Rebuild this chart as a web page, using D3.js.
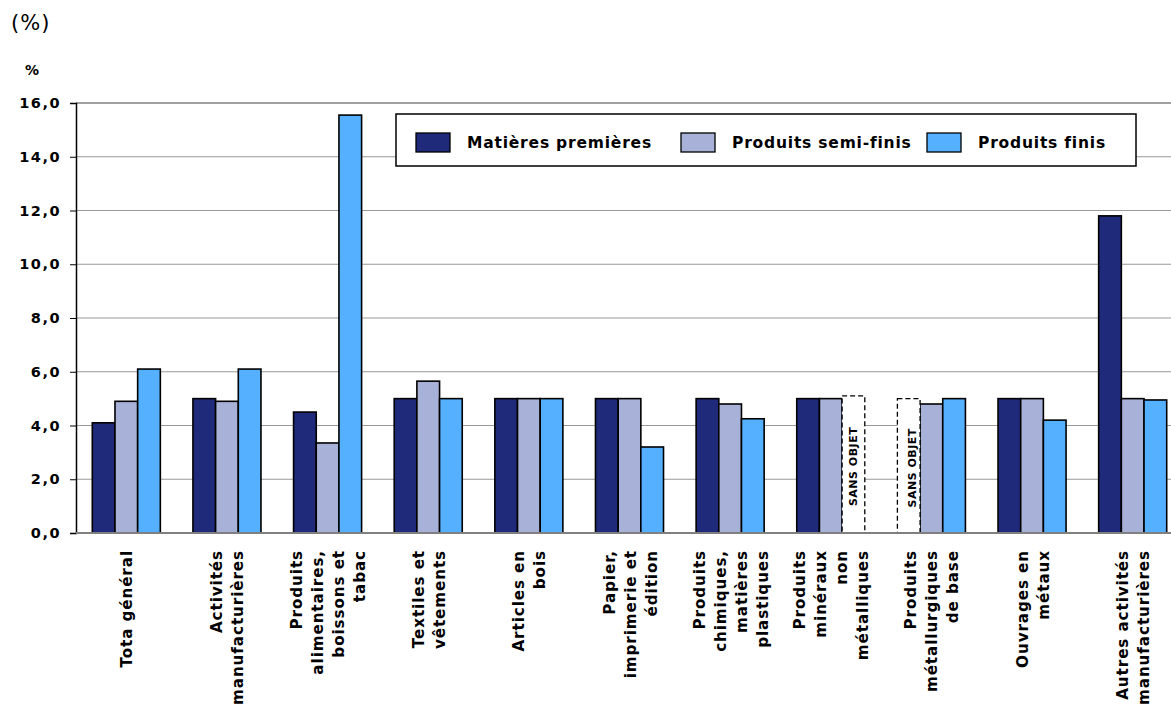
<!DOCTYPE html>
<html><head><meta charset="utf-8">
<script src="https://cdn.jsdelivr.net/npm/d3@7"></script>
<style>body{margin:0;background:#fff;} svg{display:block;}</style>
</head><body>
<svg id="chart" width="1171" height="707"></svg>
<script>
const categories = [
  ["Tota général"],
  ["Activités","manufacturières"],
  ["Produits","alimentaires,","boissons et","tabac"],
  ["Textiles et","vêtements"],
  ["Articles en","bois"],
  ["Papier,","imprimerie et","édition"],
  ["Produits","chimiques,","matières","plastiques"],
  ["Produits","minéraux","non","métalliques"],
  ["Produits","métallurgiques","de base"],
  ["Ouvrages en","métaux"],
  ["Autres activités","manufacturières"]
];
const seriesNames = ["Matières premières","Produits semi-finis","Produits finis"];
const matieres = [4.1, 5.0, 4.5, 5.0, 5.0, 5.0, 5.0, 5.0, null, 5.0, 11.8];
const semiFinis = [4.9, 4.9, 3.35, 5.65, 5.0, 5.0, 4.8, 5.0, 4.8, 5.0, 5.0];
const finis = [6.1, 6.1, 15.55, 5.0, 5.0, 3.2, 4.25, null, 5.0, 4.2, 4.95];
// "Sans objet" placeholders: [category index, series index, placeholder height]
const sansObjet = [[7, 2, 5.1], [8, 0, 5.0]];
const yTicks = [0, 2, 4, 6, 8, 10, 12, 14, 16];
const colors = ["#1f2a7a", "#a8b2d8", "#55b1ff"];

const svg = d3.select("#chart");
const font = "'DejaVu Sans', Verdana, sans-serif";
const mLeft = 76, mRight = 1183, mTop = 103, mBottom = 533, vRight = 1171;

const y = d3.scaleLinear().domain([0, 16]).range([mBottom, mTop]);
const x = d3.scaleBand().domain(d3.range(categories.length)).range([mLeft, mRight])
  .paddingInner(0.324).paddingOuter(0.162);
const xs = d3.scaleBand().domain([0, 1, 2]).range([0, x.bandwidth()]);

// gridlines
svg.append("g").selectAll("line").data(yTicks.filter(d => d > 0)).join("line")
  .attr("x1", mLeft).attr("x2", vRight)
  .attr("y1", d => y(d)).attr("y2", d => y(d))
  .attr("stroke", d => d === 16 ? "#808080" : "#999").attr("stroke-width", d => d === 16 ? 1.5 : 1);

// y axis
const yAxis = d3.axisLeft(y).tickValues(yTicks).tickSize(6)
  .tickFormat(d => d3.format(".1f")(d).replace(".", ","));
const ga = svg.append("g").attr("transform", `translate(${mLeft},0)`).call(yAxis);
ga.select(".domain").attr("stroke", "#000").attr("stroke-width", 1.5);
ga.selectAll(".tick line").attr("stroke", "#000");
ga.selectAll(".tick text").attr("font-family", font).attr("font-weight", "bold")
  .attr("font-size", 14.5).attr("letter-spacing", 1.5).attr("fill", "#000").attr("x", -15);

// bars
const data = [];
[matieres, semiFinis, finis].forEach((arr, s) => arr.forEach((v, i) => {
  if (v != null) data.push({i, s, v});
}));
svg.append("g").selectAll("rect").data(data).join("rect")
  .attr("x", d => x(d.i) + xs(d.s))
  .attr("y", d => y(d.v))
  .attr("width", xs.bandwidth())
  .attr("height", d => y(0) - y(d.v))
  .attr("fill", d => colors[d.s])
  .attr("stroke", "#000").attr("stroke-width", 1.6);

// sans objet
const so = svg.append("g");
sansObjet.forEach(([i, s, h], k) => {
  const bx = x(i) + xs(s), bw = xs.bandwidth();
  so.append("rect").attr("x", bx).attr("y", y(h)).attr("width", bw).attr("height", y(0) - y(h))
    .attr("fill", "#fff").attr("stroke", "#000").attr("stroke-width", 1.3).attr("stroke-dasharray", "5,3");
  so.append("text")
    .attr("transform", `translate(${bx + bw / 2 + (k === 1 ? 4 : 0)},${(y(h) + y(0)) / 2 + 2}) rotate(-90)`)
    .attr("text-anchor", "middle").attr("dominant-baseline", "central")
    .attr("font-family", font).attr("font-weight", "bold").attr("font-size", 11).attr("letter-spacing", 0.5)
    .text("SANS OBJET");
});

// x axis line
svg.append("line").attr("x1", mLeft).attr("x2", vRight).attr("y1", y(0)).attr("y2", y(0))
  .attr("stroke", "#808080").attr("stroke-width", 2);

// x labels
const lab = svg.append("g");
categories.forEach((lines, i) => {
  const cx = x(i) + x.bandwidth() / 2 + 1;
  const n = lines.length;
  lines.forEach((t, k) => {
    lab.append("text")
      .attr("transform", `translate(${cx + (k - (n - 1) / 2) * 21},550) rotate(-90)`)
      .attr("text-anchor", "end").attr("dominant-baseline", "central")
      .attr("font-family", font).attr("font-weight", "bold").attr("font-size", 15.2).attr("letter-spacing", 0.9)
      .attr("fill", "#000").text(t);
  });
});

// legend
const lg = svg.append("g");
lg.append("rect").attr("x", 396).attr("y", 114).attr("width", 740).attr("height", 52)
  .attr("fill", "#fff").attr("stroke", "#000").attr("stroke-width", 1.5);
const legX = [416, 681, 927];
seriesNames.forEach((nm, s) => {
  lg.append("rect").attr("x", legX[s]).attr("y", 133).attr("width", 34).attr("height", 19)
    .attr("fill", colors[s]).attr("stroke", "#000").attr("stroke-width", 1.3);
  lg.append("text").attr("x", legX[s] + 51).attr("y", 143).attr("dominant-baseline", "central")
    .attr("font-family", font).attr("font-weight", "bold").attr("font-size", 15.5).attr("letter-spacing", 0.8).text(nm);
});

// titles
svg.append("text").attr("x", 11).attr("y", 30).attr("font-family", font).attr("font-size", 21).attr("letter-spacing", 1).text("(%)");
svg.append("text").attr("x", 25).attr("y", 75).attr("font-family", font).attr("font-weight", "bold").attr("font-size", 14).text("%");
</script>
</body></html>
